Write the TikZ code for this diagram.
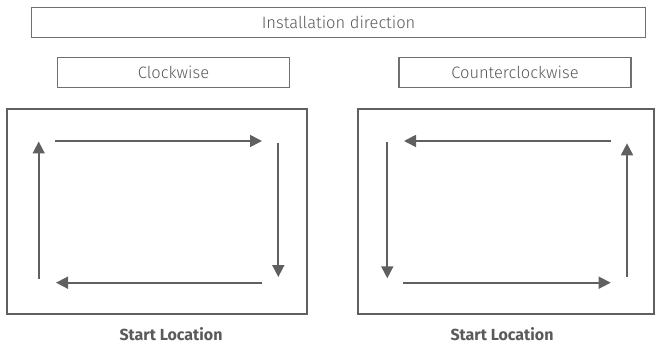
\documentclass[tikz,border=0pt]{standalone}
\usepackage{fontspec}
\setmainfont{Fira Sans Light}
\newfontfamily\boldfont{Fira Sans Bold}
\usetikzlibrary{arrows.meta}
\definecolor{linegray}{HTML}{606060}
\definecolor{boxgray}{HTML}{707070}
\definecolor{txtgray}{HTML}{5A5A5A}
\begin{document}
\begin{tikzpicture}[x=1pt,y=-1pt,
  labelbox/.style={draw=boxgray,line width=1.2pt,inner sep=0pt,text=txtgray,font=\fontsize{16.5}{19}\selectfont},
  frame/.style={draw=linegray,line width=2pt,inner sep=0pt},
  flow/.style={draw=linegray,line width=1.7pt,-{Triangle[length=12pt,width=12pt]}},
  startlbl/.style={text=txtgray,font=\boldfont\fontsize{16}{18}\selectfont}]
\useasboundingbox (0,0) rectangle (655,347);
\node[labelbox,minimum width=614pt,minimum height=30pt] (dir) at (338.6,22.7) {Installation direction};
\node[labelbox,minimum width=232pt,minimum height=30pt] (cw) at (173.5,72.3) {Clockwise};
\node[labelbox,minimum width=232pt,minimum height=30pt] (ccw) at (515,72.3) {Counterclockwise};
\node[frame,minimum width=300pt,minimum height=205pt] (f1) at (157.3,211.5) {};
\node[frame,minimum width=296pt,minimum height=205pt] (f2) at (505.5,211.5) {};
\node[startlbl] (s1) at (171,334) {Start Location};
\node[startlbl] (s2) at (502,334) {Start Location};
% left frame arrows (clockwise)
\coordinate (a1) at (38.7,279);
\coordinate (a2) at (38.7,141.5);
\coordinate (a3) at (55,141);
\coordinate (a4) at (262,141);
\coordinate (a5) at (278.3,143.3);
\coordinate (a6) at (278.3,277);
\coordinate (a7) at (262.3,282.7);
\coordinate (a8) at (56,282.7);
\draw[flow] (a1) -- (a2);
\draw[flow] (a3) -- (a4);
\draw[flow] (a5) -- (a6);
\draw[flow] (a7) -- (a8);
% right frame arrows (counterclockwise)
\coordinate (b1) at (387.3,141.7);
\coordinate (b2) at (387.3,278.3);
\coordinate (b3) at (403.3,282.7);
\coordinate (b4) at (610.7,282.7);
\coordinate (b5) at (627,277.3);
\coordinate (b6) at (627,143.3);
\coordinate (b7) at (611,141);
\coordinate (b8) at (404,141);
\draw[flow] (b1) -- (b2);
\draw[flow] (b3) -- (b4);
\draw[flow] (b5) -- (b6);
\draw[flow] (b7) -- (b8);
\end{tikzpicture}
\end{document}
